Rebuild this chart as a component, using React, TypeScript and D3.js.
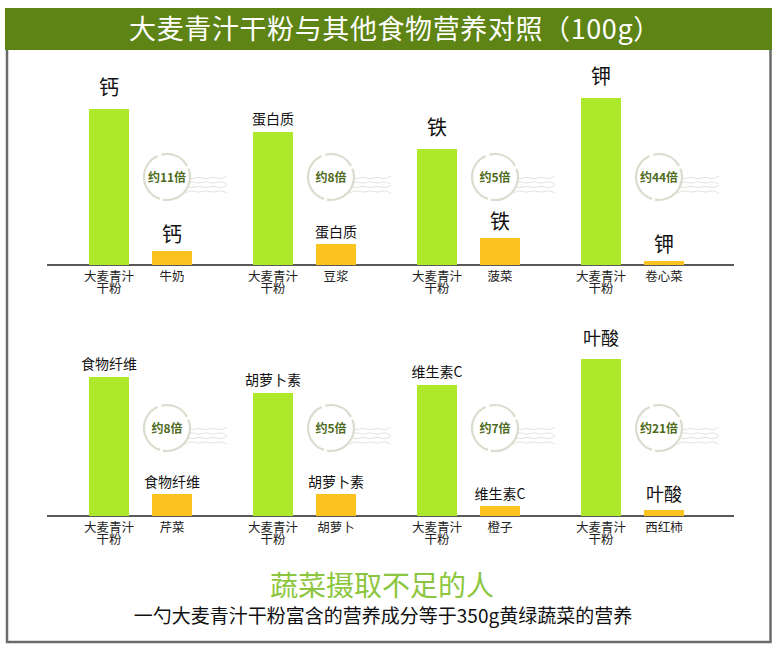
import React, { useRef, useEffect } from "react";
import * as d3 from "d3";

// nutrients compared, one panel each
const topNutrients = ["钙", "蛋白质", "铁", "钾"];
const bottomNutrients = ["食物纤维", "胡萝卜素", "维生素C", "叶酸"];

// the food barley grass powder is compared with
const topFoods = ["牛奶", "豆浆", "菠菜", "卷心菜"];
const bottomFoods = ["芹菜", "胡萝卜", "橙子", "西红柿"];

// relative bar heights
const topBarley = [156, 133, 116, 167];
const topOther = [14, 21, 27, 4];
const bottomBarley = [139, 123, 131, 157];
const bottomOther = [22, 22, 10, 6];

// multiples shown in the badges
const topRatio = ["约11倍", "约8倍", "约5倍", "约44倍"];
const bottomRatio = ["约8倍", "约5倍", "约7倍", "约21倍"];

const barleyName = ["大麦青汁", "干粉"];
const title = "大麦青汁干粉与其他食物营养对照（100g）";
const footTitle = "蔬菜摄取不足的人";
const footNote = "一勺大麦青汁干粉富含的营养成分等于350g黄绿蔬菜的营养";

const W = 778;
const H = 647;
const FONT = "'Noto Sans CJK SC', 'Noto Sans', sans-serif";

export default function App() {
  const ref = useRef<SVGSVGElement | null>(null);

  useEffect(() => {
    const svg = d3.select(ref.current);
    svg.selectAll("*").remove();

    // header band + frame
    svg.append("rect")
      .attr("x", 5).attr("y", 8)
      .attr("width", 767).attr("height", 42)
      .attr("fill", "#5d8414");
    svg.append("text")
      .attr("x", 395).attr("y", 39)
      .attr("text-anchor", "middle")
      .attr("fill", "#fff")
      .style("font-family", FONT)
      .style("font-size", "27px")
      .style("letter-spacing", "0.6px")
      .text(title);
    svg.append("path")
      .attr("d", "M7,50 V642 H770.5 V50")
      .attr("fill", "none")
      .attr("stroke", "#6b6b6b")
      .attr("stroke-width", 2.5);

    const x0 = d3.scaleBand<number>().domain([0, 1, 2, 3]).range([80, 736]);
    const x1 = d3.scaleBand<string>()
      .domain(["barley", "other"])
      .range([9, 112])
      .paddingInner(0.365);
    const h = d3.scaleLinear().domain([0, 170]).range([0, 170]);

    const wave = d3.line<[number, number]>().curve(d3.curveBasis);

    function row(baseY: number, nutrients: string[], foods: string[], barley: number[], other: number[], ratio: string[]) {
      const g = svg.append("g");

      g.append("line")
        .attr("x1", 47).attr("x2", 734)
        .attr("y1", baseY).attr("y2", baseY)
        .attr("stroke", "#222")
        .attr("stroke-width", 1.5);

      nutrients.forEach((n, i) => {
        const px = x0(i)!;
        const labelSize = n.length === 1 ? 20 : n.length === 2 ? 18 : 14;
        const bars = [
          { key: "barley", v: barley[i], color: "#aee82b", gap: n.length < 3 ? 12 : 6 },
          { key: "other", v: other[i], color: "#fcc21f", gap: n.length < 3 ? 7 : 5 },
        ];

        bars.forEach((b) => {
          const bx = px + x1(b.key)!;
          const top = baseY - h(b.v);
          g.append("rect")
            .attr("x", bx).attr("y", top)
            .attr("width", x1.bandwidth())
            .attr("height", h(b.v))
            .attr("fill", b.color);
          g.append("text")
            .attr("x", bx + x1.bandwidth() / 2)
            .attr("y", top - b.gap - labelSize * 0.12)
            .attr("text-anchor", "middle")
            .attr("fill", "#111")
            .style("font-family", FONT)
            .style("font-size", labelSize + "px")
            .text(n);
        });

        // category labels under the axis; barley name wraps on two tight lines
        const cb = px + x1("barley")! + x1.bandwidth() / 2;
        const co = px + x1("other")! + x1.bandwidth() / 2;
        const nameText = g.append("text")
          .attr("x", cb).attr("y", baseY + 16)
          .attr("text-anchor", "middle")
          .attr("fill", "#222")
          .style("font-family", FONT)
          .style("font-size", "12.5px");
        barleyName.forEach((t, k) => {
          nameText.append("tspan")
            .attr("x", cb)
            .attr("dy", k === 0 ? 0 : 12)
            .text(t);
        });
        g.append("text")
          .attr("x", co).attr("y", baseY + 16)
          .attr("text-anchor", "middle")
          .attr("fill", "#222")
          .style("font-family", FONT)
          .style("font-size", "12.5px")
          .text(foods[i]);

        // badge with wavy lines
        const cx = co - 5;
        const cy = baseY - 88;
        for (let k = 0; k < 4; k++) {
          const pts: [number, number][] = [];
          for (let s = 0; s <= 6; s++) {
            const wx = cx + 18 + s * 7;
            pts.push([wx, cy + 1 + k * 4.5 + (s % 2 === 0 ? -1.8 : 1.8) * (k % 2 ? -1 : 1)]);
          }
          g.append("path")
            .attr("d", wave(pts))
            .attr("fill", "none")
            .attr("stroke", "#dcdcd6")
            .attr("stroke-width", 1)
            .attr("opacity", 0.85);
        }
        g.append("circle")
          .attr("cx", cx).attr("cy", cy).attr("r", 23)
          .attr("fill", "#fff")
          .attr("stroke", "#dadccd")
          .attr("stroke-width", 2.2)
          .attr("stroke-dasharray", "40 3 55 4 30 3");
        g.append("text")
          .attr("x", cx).attr("y", cy + 4.5)
          .attr("text-anchor", "middle")
          .attr("fill", "#4e6b1c")
          .style("font-family", FONT)
          .style("font-weight", "bold")
          .style("font-size", "12px")
          .text(ratio[i]);
      });
    }

    row(265, topNutrients, topFoods, topBarley, topOther, topRatio);
    row(516, bottomNutrients, bottomFoods, bottomBarley, bottomOther, bottomRatio);

    // footer
    svg.append("text")
      .attr("x", 382).attr("y", 596)
      .attr("text-anchor", "middle")
      .attr("fill", "#8cc63e")
      .style("font-family", FONT)
      .style("font-size", "28px")
      .text(footTitle);
    svg.append("text")
      .attr("x", 383).attr("y", 623)
      .attr("text-anchor", "middle")
      .attr("fill", "#111")
      .style("font-family", FONT)
      .style("font-size", "19px")
      .text(footNote);
  }, []);

  return (
    <div style={{ position: "absolute", left: 0, top: 0 }}>
      <svg ref={ref} width={W} height={H} style={{ display: "block", background: "#fff" }} />
    </div>
  );
}
